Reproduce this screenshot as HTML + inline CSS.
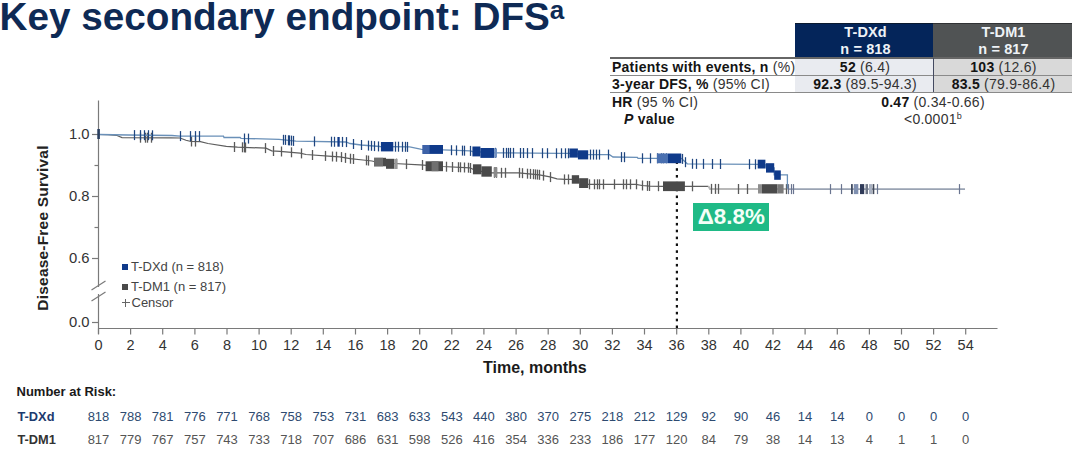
<!DOCTYPE html>
<html><head><meta charset="utf-8">
<style>
html,body{margin:0;padding:0;background:#fff;}
body{width:1080px;height:453px;position:relative;overflow:hidden;font-family:"Liberation Sans",sans-serif;}
.a{position:absolute;white-space:nowrap;}
#title{position:absolute;left:-0.5px;top:-5px;font-size:38.7px;font-weight:bold;color:#0e2a55;letter-spacing:0px;}
#title sup{font-size:26px;vertical-align:0;position:relative;top:-11px;margin-left:0px;}
svg{position:absolute;left:0;top:0;}
.xl{position:absolute;top:336.5px;width:40px;text-align:center;font-size:14.5px;color:#333;}
.yl{position:absolute;left:58px;width:31.5px;text-align:right;font-size:14.8px;color:#333;}
.rk{position:absolute;width:40px;text-align:center;font-size:13px;}
.rk.b{top:409px;color:#2e4a70;}
.rk.g{top:432px;color:#555;}
table{position:absolute;left:610px;top:22px;border-collapse:collapse;font-size:12.8px;color:#222;}
td{padding:0;height:17px;line-height:16px;white-space:nowrap;}
b{color:#141414;}
</style></head><body>
<div id="title">Key secondary endpoint: DFS<sup>a</sup></div>

<div class="a" style="left:795px;top:22.5px;width:138px;height:34.5px;background:#04255a;border-top:1px solid #0a1a30;box-sizing:border-box;"></div>
<div class="a" style="left:933px;top:22.5px;width:139px;height:34.5px;background:#505354;border-top:1px solid #303234;box-sizing:border-box;"></div>
<div class="a hd" style="left:796.5px;top:24px;width:138px;text-align:center;color:#eef2f6;font-weight:bold;font-size:14.5px;line-height:17px;letter-spacing:0.1px;">T-DXd<br>n = 818</div>
<div class="a hd" style="left:934px;top:24px;width:139px;text-align:center;color:#eef2f6;font-weight:bold;font-size:14.5px;line-height:17px;letter-spacing:0.1px;">T-DM1<br>n = 817</div>
<div class="a" style="left:795px;top:58px;width:138px;height:34px;background:#e9ebf0;"></div>
<div class="a" style="left:933px;top:58px;width:139px;height:34px;background:#d9d9d9;"></div>
<div class="a" style="left:610px;top:57.3px;width:462px;height:1.5px;background:#666;"></div>
<div class="a" style="left:610px;top:74.6px;width:462px;height:1.5px;background:#8a8a8a;"></div>
<div class="a" style="left:610px;top:91.6px;width:462px;height:1.5px;background:#8a8a8a;"></div>
<div class="a" style="left:933px;top:58px;width:1px;height:34px;background:#444a60;"></div>

<div class="a" style="left:612px;top:59px;font-size:14px;line-height:17px;color:#333;letter-spacing:0.25px;"><b>Patients with events, n</b> (%)</div>
<div class="a" style="left:612px;top:76px;font-size:14px;line-height:17px;color:#333;letter-spacing:0.25px;"><b>3-year DFS, %</b> (95% CI)</div>
<div class="a" style="left:612px;top:93.7px;font-size:14px;line-height:17px;color:#333;letter-spacing:0.25px;"><b>HR</b> (95 % CI)</div>
<div class="a" style="left:624px;top:110.7px;font-size:14px;line-height:17px;color:#333;letter-spacing:0.25px;"><b><i>P</i> value</b></div>
<div class="a" style="left:796px;top:59px;width:138px;text-align:center;font-size:14px;line-height:17px;color:#333;letter-spacing:0.25px;"><b>52</b> (6.4)</div>
<div class="a" style="left:934px;top:59px;width:139px;text-align:center;font-size:14px;line-height:17px;color:#333;letter-spacing:0.25px;"><b>103</b> (12.6)</div>
<div class="a" style="left:796px;top:76px;width:138px;text-align:center;font-size:14px;line-height:17px;color:#333;letter-spacing:0.25px;"><b>92.3</b> (89.5-94.3)</div>
<div class="a" style="left:934px;top:76px;width:139px;text-align:center;font-size:14px;line-height:17px;color:#333;letter-spacing:0.25px;"><b>83.5</b> (79.9-86.4)</div>
<div class="a" style="left:833px;top:93.7px;width:200px;text-align:center;font-size:14px;line-height:17px;color:#333;letter-spacing:0.25px;"><b>0.47</b> (0.34-0.66)</div>
<div class="a" style="left:833px;top:110.7px;width:200px;text-align:center;font-size:14px;line-height:17px;color:#333;letter-spacing:0.25px;">&lt;0.0001<sup style="font-size:9px;vertical-align:0;position:relative;top:-5px;">b</sup></div>

<svg width="1080" height="453" viewBox="0 0 1080 453">
<line x1="98.5" y1="100.5" x2="98.5" y2="287" stroke="#7a7a7a" stroke-width="1.2"/><line x1="98.5" y1="294" x2="98.5" y2="334" stroke="#7a7a7a" stroke-width="1.2"/><line x1="91.5" y1="290" x2="105.5" y2="281" stroke="#7a7a7a" stroke-width="1.2"/><line x1="91.5" y1="301" x2="105.5" y2="292" stroke="#7a7a7a" stroke-width="1.2"/><line x1="98.5" y1="328.5" x2="997.5" y2="328.5" stroke="#7a7a7a" stroke-width="1.2"/><line x1="92" y1="134.5" x2="98.5" y2="134.5" stroke="#7a7a7a" stroke-width="1.2"/><line x1="92" y1="196.5" x2="98.5" y2="196.5" stroke="#7a7a7a" stroke-width="1.2"/><line x1="92" y1="258.5" x2="98.5" y2="258.5" stroke="#7a7a7a" stroke-width="1.2"/><line x1="92" y1="322.5" x2="98.5" y2="322.5" stroke="#7a7a7a" stroke-width="1.2"/><line x1="94.5" y1="165.5" x2="98.5" y2="165.5" stroke="#7a7a7a" stroke-width="1.2"/><line x1="94.5" y1="227.5" x2="98.5" y2="227.5" stroke="#7a7a7a" stroke-width="1.2"/><line x1="98.5" y1="328.5" x2="98.5" y2="334.5" stroke="#7a7a7a" stroke-width="1.2"/><line x1="130.6" y1="328.5" x2="130.6" y2="334.5" stroke="#7a7a7a" stroke-width="1.2"/><line x1="162.7" y1="328.5" x2="162.7" y2="334.5" stroke="#7a7a7a" stroke-width="1.2"/><line x1="194.9" y1="328.5" x2="194.9" y2="334.5" stroke="#7a7a7a" stroke-width="1.2"/><line x1="227.0" y1="328.5" x2="227.0" y2="334.5" stroke="#7a7a7a" stroke-width="1.2"/><line x1="259.1" y1="328.5" x2="259.1" y2="334.5" stroke="#7a7a7a" stroke-width="1.2"/><line x1="291.2" y1="328.5" x2="291.2" y2="334.5" stroke="#7a7a7a" stroke-width="1.2"/><line x1="323.3" y1="328.5" x2="323.3" y2="334.5" stroke="#7a7a7a" stroke-width="1.2"/><line x1="355.5" y1="328.5" x2="355.5" y2="334.5" stroke="#7a7a7a" stroke-width="1.2"/><line x1="387.6" y1="328.5" x2="387.6" y2="334.5" stroke="#7a7a7a" stroke-width="1.2"/><line x1="419.7" y1="328.5" x2="419.7" y2="334.5" stroke="#7a7a7a" stroke-width="1.2"/><line x1="451.8" y1="328.5" x2="451.8" y2="334.5" stroke="#7a7a7a" stroke-width="1.2"/><line x1="483.9" y1="328.5" x2="483.9" y2="334.5" stroke="#7a7a7a" stroke-width="1.2"/><line x1="516.1" y1="328.5" x2="516.1" y2="334.5" stroke="#7a7a7a" stroke-width="1.2"/><line x1="548.2" y1="328.5" x2="548.2" y2="334.5" stroke="#7a7a7a" stroke-width="1.2"/><line x1="580.3" y1="328.5" x2="580.3" y2="334.5" stroke="#7a7a7a" stroke-width="1.2"/><line x1="612.4" y1="328.5" x2="612.4" y2="334.5" stroke="#7a7a7a" stroke-width="1.2"/><line x1="644.5" y1="328.5" x2="644.5" y2="334.5" stroke="#7a7a7a" stroke-width="1.2"/><line x1="676.7" y1="328.5" x2="676.7" y2="334.5" stroke="#7a7a7a" stroke-width="1.2"/><line x1="708.8" y1="328.5" x2="708.8" y2="334.5" stroke="#7a7a7a" stroke-width="1.2"/><line x1="740.9" y1="328.5" x2="740.9" y2="334.5" stroke="#7a7a7a" stroke-width="1.2"/><line x1="773.0" y1="328.5" x2="773.0" y2="334.5" stroke="#7a7a7a" stroke-width="1.2"/><line x1="805.1" y1="328.5" x2="805.1" y2="334.5" stroke="#7a7a7a" stroke-width="1.2"/><line x1="837.3" y1="328.5" x2="837.3" y2="334.5" stroke="#7a7a7a" stroke-width="1.2"/><line x1="869.4" y1="328.5" x2="869.4" y2="334.5" stroke="#7a7a7a" stroke-width="1.2"/><line x1="901.5" y1="328.5" x2="901.5" y2="334.5" stroke="#7a7a7a" stroke-width="1.2"/><line x1="933.6" y1="328.5" x2="933.6" y2="334.5" stroke="#7a7a7a" stroke-width="1.2"/><line x1="965.7" y1="328.5" x2="965.7" y2="334.5" stroke="#7a7a7a" stroke-width="1.2"/><rect x="675.8" y="325.5" width="2.2" height="2.6" fill="#111"/><rect x="675.8" y="318.7" width="2.2" height="2.6" fill="#111"/><rect x="675.8" y="311.8" width="2.2" height="2.6" fill="#111"/><rect x="675.8" y="305.0" width="2.2" height="2.6" fill="#111"/><rect x="675.8" y="298.1" width="2.2" height="2.6" fill="#111"/><rect x="675.8" y="291.3" width="2.2" height="2.6" fill="#111"/><rect x="675.8" y="284.5" width="2.2" height="2.6" fill="#111"/><rect x="675.8" y="277.6" width="2.2" height="2.6" fill="#111"/><rect x="675.8" y="270.8" width="2.2" height="2.6" fill="#111"/><rect x="675.8" y="263.9" width="2.2" height="2.6" fill="#111"/><rect x="675.8" y="257.1" width="2.2" height="2.6" fill="#111"/><rect x="675.8" y="250.3" width="2.2" height="2.6" fill="#111"/><rect x="675.8" y="243.4" width="2.2" height="2.6" fill="#111"/><rect x="675.8" y="236.6" width="2.2" height="2.6" fill="#111"/><rect x="675.8" y="229.7" width="2.2" height="2.6" fill="#111"/><rect x="675.8" y="222.9" width="2.2" height="2.6" fill="#111"/><rect x="675.8" y="216.1" width="2.2" height="2.6" fill="#111"/><rect x="675.8" y="209.2" width="2.2" height="2.6" fill="#111"/><rect x="675.8" y="202.4" width="2.2" height="2.6" fill="#111"/><rect x="675.8" y="195.5" width="2.2" height="2.6" fill="#111"/><rect x="675.8" y="188.7" width="2.2" height="2.6" fill="#111"/><rect x="675.8" y="181.9" width="2.2" height="2.6" fill="#111"/><rect x="675.8" y="175.0" width="2.2" height="2.6" fill="#111"/><rect x="675.8" y="168.2" width="2.2" height="2.6" fill="#111"/><rect x="675.8" y="161.3" width="2.2" height="2.6" fill="#111"/>
<path d="M98.5,134.5 L108.0,134.7 L117.0,135.5 L122.0,137.6 L171.0,137.8 L180.0,138.0 L186.0,140.3 L191.0,141.5 L200.4,141.7 L208.0,143.5 L226.3,146.3 L237.4,147.2 L266.0,148.1 L271.7,150.9 L280.0,151.4 L300.0,153.1 L306.0,154.5 L331.8,156.4 L340.0,156.9 L350.0,158.7 L363.0,160.0 L372.0,161.0 L380.0,163.0 L394.0,163.5 L420.0,164.8 L443.0,166.5 L470.0,167.8 L472.9,169.3 L481.4,171.3 L491.8,172.8 L518.6,172.8 L539.4,174.8 L550.0,176.8 L557.0,178.8 L565.0,179.4 L571.8,179.4 L579.1,182.0 L588.2,184.3 L636.0,184.3 L642.0,185.5 L650.0,186.1 L663.0,186.3 L708.5,186.3" fill="none" stroke="#5e5e5e" stroke-width="1.2"/><path d="M708.5,186.3 L710.0,188.9 L787.4,189.1" fill="none" stroke="#b8b8b8" stroke-width="2"/><line x1="140.5" y1="132.7" x2="140.5" y2="142.7" stroke="#5a5a5a" stroke-width="1.3"/><line x1="145.5" y1="132.7" x2="145.5" y2="142.7" stroke="#5a5a5a" stroke-width="1.3"/><line x1="147.5" y1="132.7" x2="147.5" y2="142.7" stroke="#5a5a5a" stroke-width="1.3"/><line x1="151.5" y1="132.7" x2="151.5" y2="142.7" stroke="#5a5a5a" stroke-width="1.3"/><line x1="191.5" y1="136.5" x2="191.5" y2="146.5" stroke="#5a5a5a" stroke-width="1.3"/><line x1="195.5" y1="136.6" x2="195.5" y2="146.6" stroke="#5a5a5a" stroke-width="1.3"/><line x1="234.5" y1="142.0" x2="234.5" y2="152.0" stroke="#5a5a5a" stroke-width="1.3"/><line x1="242.5" y1="142.3" x2="242.5" y2="152.3" stroke="#5a5a5a" stroke-width="1.3"/><line x1="244.5" y1="142.4" x2="244.5" y2="152.4" stroke="#5a5a5a" stroke-width="1.3"/><line x1="245.5" y1="142.5" x2="245.5" y2="152.5" stroke="#5a5a5a" stroke-width="1.3"/><line x1="265.5" y1="143.1" x2="265.5" y2="153.1" stroke="#5a5a5a" stroke-width="1.3"/><line x1="273.5" y1="146.0" x2="273.5" y2="156.0" stroke="#5a5a5a" stroke-width="1.3"/><line x1="281.5" y1="146.5" x2="281.5" y2="156.5" stroke="#5a5a5a" stroke-width="1.3"/><line x1="291.5" y1="147.3" x2="291.5" y2="157.3" stroke="#5a5a5a" stroke-width="1.3"/><line x1="301.5" y1="148.4" x2="301.5" y2="158.4" stroke="#5a5a5a" stroke-width="1.3"/><line x1="312.5" y1="150.0" x2="312.5" y2="160.0" stroke="#5a5a5a" stroke-width="1.3"/><line x1="325.5" y1="150.9" x2="325.5" y2="160.9" stroke="#5a5a5a" stroke-width="1.3"/><line x1="332.5" y1="151.5" x2="332.5" y2="161.5" stroke="#5a5a5a" stroke-width="1.3"/><line x1="336.5" y1="151.7" x2="336.5" y2="161.7" stroke="#5a5a5a" stroke-width="1.3"/><line x1="341.5" y1="152.1" x2="341.5" y2="162.1" stroke="#5a5a5a" stroke-width="1.3"/><line x1="345.5" y1="152.9" x2="345.5" y2="162.9" stroke="#5a5a5a" stroke-width="1.3"/><line x1="350.5" y1="153.7" x2="350.5" y2="163.7" stroke="#5a5a5a" stroke-width="1.3"/><line x1="353.5" y1="154.0" x2="353.5" y2="164.0" stroke="#5a5a5a" stroke-width="1.3"/><line x1="366.5" y1="155.3" x2="366.5" y2="165.3" stroke="#5a5a5a" stroke-width="1.3"/><line x1="368.5" y1="155.6" x2="368.5" y2="165.6" stroke="#5a5a5a" stroke-width="1.3"/><line x1="396.5" y1="158.6" x2="396.5" y2="168.6" stroke="#5a5a5a" stroke-width="1.3"/><line x1="406.5" y1="159.1" x2="406.5" y2="169.1" stroke="#5a5a5a" stroke-width="1.3"/><line x1="422.5" y1="160.0" x2="422.5" y2="170.0" stroke="#5a5a5a" stroke-width="1.3"/><line x1="446.5" y1="161.7" x2="446.5" y2="171.7" stroke="#5a5a5a" stroke-width="1.3"/><line x1="452.5" y1="162.0" x2="452.5" y2="172.0" stroke="#5a5a5a" stroke-width="1.3"/><line x1="458.5" y1="162.2" x2="458.5" y2="172.2" stroke="#5a5a5a" stroke-width="1.3"/><line x1="460.5" y1="162.3" x2="460.5" y2="172.3" stroke="#5a5a5a" stroke-width="1.3"/><line x1="464.5" y1="162.5" x2="464.5" y2="172.5" stroke="#5a5a5a" stroke-width="1.3"/><line x1="468.5" y1="162.7" x2="468.5" y2="172.7" stroke="#5a5a5a" stroke-width="1.3"/><line x1="470.5" y1="163.0" x2="470.5" y2="173.0" stroke="#5a5a5a" stroke-width="1.3"/><line x1="494.5" y1="167.8" x2="494.5" y2="177.8" stroke="#5a5a5a" stroke-width="1.3"/><line x1="496.5" y1="167.8" x2="496.5" y2="177.8" stroke="#5a5a5a" stroke-width="1.3"/><line x1="501.5" y1="167.8" x2="501.5" y2="177.8" stroke="#5a5a5a" stroke-width="1.3"/><line x1="505.5" y1="167.8" x2="505.5" y2="177.8" stroke="#5a5a5a" stroke-width="1.3"/><line x1="519.5" y1="167.8" x2="519.5" y2="177.8" stroke="#5a5a5a" stroke-width="1.3"/><line x1="522.5" y1="168.2" x2="522.5" y2="178.2" stroke="#5a5a5a" stroke-width="1.3"/><line x1="527.5" y1="168.7" x2="527.5" y2="178.7" stroke="#5a5a5a" stroke-width="1.3"/><line x1="530.5" y1="168.9" x2="530.5" y2="178.9" stroke="#5a5a5a" stroke-width="1.3"/><line x1="533.5" y1="169.2" x2="533.5" y2="179.2" stroke="#5a5a5a" stroke-width="1.3"/><line x1="535.5" y1="169.4" x2="535.5" y2="179.4" stroke="#5a5a5a" stroke-width="1.3"/><line x1="537.5" y1="169.6" x2="537.5" y2="179.6" stroke="#5a5a5a" stroke-width="1.3"/><line x1="539.5" y1="169.8" x2="539.5" y2="179.8" stroke="#5a5a5a" stroke-width="1.3"/><line x1="543.5" y1="170.6" x2="543.5" y2="180.6" stroke="#5a5a5a" stroke-width="1.3"/><line x1="550.5" y1="172.1" x2="550.5" y2="182.1" stroke="#5a5a5a" stroke-width="1.3"/><line x1="564.5" y1="174.4" x2="564.5" y2="184.4" stroke="#5a5a5a" stroke-width="1.3"/><line x1="568.5" y1="174.4" x2="568.5" y2="184.4" stroke="#5a5a5a" stroke-width="1.3"/><line x1="589.5" y1="179.3" x2="589.5" y2="189.3" stroke="#5a5a5a" stroke-width="1.3"/><line x1="594.5" y1="179.3" x2="594.5" y2="189.3" stroke="#5a5a5a" stroke-width="1.3"/><line x1="597.5" y1="179.3" x2="597.5" y2="189.3" stroke="#5a5a5a" stroke-width="1.3"/><line x1="599.5" y1="179.3" x2="599.5" y2="189.3" stroke="#5a5a5a" stroke-width="1.3"/><line x1="603.5" y1="179.3" x2="603.5" y2="189.3" stroke="#5a5a5a" stroke-width="1.3"/><line x1="614.5" y1="179.3" x2="614.5" y2="189.3" stroke="#5a5a5a" stroke-width="1.3"/><line x1="623.5" y1="179.3" x2="623.5" y2="189.3" stroke="#5a5a5a" stroke-width="1.3"/><line x1="626.5" y1="179.3" x2="626.5" y2="189.3" stroke="#5a5a5a" stroke-width="1.3"/><line x1="630.5" y1="179.3" x2="630.5" y2="189.3" stroke="#5a5a5a" stroke-width="1.3"/><line x1="636.5" y1="179.3" x2="636.5" y2="189.3" stroke="#5a5a5a" stroke-width="1.3"/><line x1="642.5" y1="180.5" x2="642.5" y2="190.5" stroke="#5a5a5a" stroke-width="1.3"/><line x1="647.5" y1="180.9" x2="647.5" y2="190.9" stroke="#5a5a5a" stroke-width="1.3"/><line x1="649.5" y1="181.0" x2="649.5" y2="191.0" stroke="#5a5a5a" stroke-width="1.3"/><line x1="658.5" y1="181.2" x2="658.5" y2="191.2" stroke="#5a5a5a" stroke-width="1.3"/><line x1="692.5" y1="181.3" x2="692.5" y2="191.3" stroke="#5a5a5a" stroke-width="1.3"/><line x1="711.5" y1="183.9" x2="711.5" y2="193.9" stroke="#5a5a5a" stroke-width="1.3"/><line x1="715.5" y1="183.9" x2="715.5" y2="193.9" stroke="#5a5a5a" stroke-width="1.3"/><line x1="718.5" y1="183.9" x2="718.5" y2="193.9" stroke="#5a5a5a" stroke-width="1.3"/><line x1="738.5" y1="184.0" x2="738.5" y2="194.0" stroke="#5a5a5a" stroke-width="1.3"/><line x1="747.5" y1="184.0" x2="747.5" y2="194.0" stroke="#5a5a5a" stroke-width="1.3"/><line x1="786.5" y1="184.1" x2="786.5" y2="194.1" stroke="#5a5a5a" stroke-width="1.3"/><rect x="374.0" y="157.8" width="12.0" height="8.5" fill="#4a4a4a"/><rect x="386.0" y="158.8" width="8.3" height="10.0" fill="#4a4a4a"/><rect x="425.6" y="161.3" width="17.4" height="9.9" fill="#4a4a4a"/><rect x="472.9" y="164.3" width="8.5" height="10.0" fill="#4a4a4a"/><rect x="481.4" y="166.3" width="10.4" height="10.4" fill="#4a4a4a"/><rect x="571.8" y="175.2" width="7.3" height="8.5" fill="#4a4a4a"/><rect x="579.1" y="178.2" width="9.1" height="9.8" fill="#4a4a4a"/><rect x="663.0" y="181.4" width="21.9" height="9.7" fill="#4a4a4a"/><rect x="762.0" y="184.2" width="15.5" height="9.3" fill="#4a4a4a"/><rect x="758.0" y="184.2" width="4.0" height="9.3" fill="#8e8e8e"/><rect x="777.5" y="184.2" width="6.1" height="9.3" fill="#7a7a7a"/><rect x="394.3" y="159.0" width="3.2" height="10.0" fill="#9a9a9a"/><rect x="493.8" y="167.0" width="3.4" height="10.0" fill="#8a8a8a"/><rect x="374.0" y="157.8" width="9.0" height="8.5" fill="#6e6e6e"/><rect x="431.6" y="161.3" width="6.9" height="9.9" fill="#707070"/><path d="M98.5,134.5 L128.0,135.0 L172.0,135.5 L180.0,136.1 L223.5,136.1 L224.0,137.5 L240.2,137.5 L241.0,138.4 L279.0,139.3 L296.0,141.1 L346.0,142.0 L350.0,143.5 L361.0,145.0 L380.0,146.5 L409.7,146.9 L421.6,149.4 L443.0,149.9 L470.0,150.9 L472.4,151.5 L494.3,152.8 L560.0,153.3 L569.4,153.3 L588.2,154.6 L609.5,154.6 L613.0,157.0 L637.4,157.4 L638.0,158.3 L657.0,158.3 L681.3,158.3 L687.3,163.8 L757.7,164.3 L765.4,164.3 L766.0,167.9 L774.2,167.9 L774.2,174.8 L787.4,174.8 L787.4,189.1" fill="none" stroke="#6a90b8" stroke-width="1.3"/><line x1="134.5" y1="130.1" x2="134.5" y2="140.1" stroke="#1f4680" stroke-width="1.25"/><line x1="140.5" y1="130.1" x2="140.5" y2="140.1" stroke="#1f4680" stroke-width="1.25"/><line x1="144.5" y1="130.2" x2="144.5" y2="140.2" stroke="#1f4680" stroke-width="1.25"/><line x1="148.5" y1="130.2" x2="148.5" y2="140.2" stroke="#1f4680" stroke-width="1.25"/><line x1="152.5" y1="130.3" x2="152.5" y2="140.3" stroke="#1f4680" stroke-width="1.25"/><line x1="180.5" y1="131.1" x2="180.5" y2="141.1" stroke="#1f4680" stroke-width="1.25"/><line x1="190.5" y1="131.1" x2="190.5" y2="141.1" stroke="#1f4680" stroke-width="1.25"/><line x1="195.5" y1="131.1" x2="195.5" y2="141.1" stroke="#1f4680" stroke-width="1.25"/><line x1="199.5" y1="131.1" x2="199.5" y2="141.1" stroke="#1f4680" stroke-width="1.25"/><line x1="244.5" y1="133.5" x2="244.5" y2="143.5" stroke="#1f4680" stroke-width="1.25"/><line x1="248.5" y1="133.6" x2="248.5" y2="143.6" stroke="#1f4680" stroke-width="1.25"/><line x1="283.5" y1="134.8" x2="283.5" y2="144.8" stroke="#1f4680" stroke-width="1.25"/><line x1="285.5" y1="134.9" x2="285.5" y2="144.9" stroke="#1f4680" stroke-width="1.25"/><line x1="288.5" y1="135.3" x2="288.5" y2="145.3" stroke="#1f4680" stroke-width="1.25"/><line x1="289.5" y1="135.4" x2="289.5" y2="145.4" stroke="#1f4680" stroke-width="1.25"/><line x1="291.5" y1="135.6" x2="291.5" y2="145.6" stroke="#1f4680" stroke-width="1.25"/><line x1="293.5" y1="135.9" x2="293.5" y2="145.9" stroke="#1f4680" stroke-width="1.25"/><line x1="314.5" y1="136.4" x2="314.5" y2="146.4" stroke="#1f4680" stroke-width="1.25"/><line x1="331.5" y1="136.7" x2="331.5" y2="146.7" stroke="#1f4680" stroke-width="1.25"/><line x1="334.5" y1="136.8" x2="334.5" y2="146.8" stroke="#1f4680" stroke-width="1.25"/><line x1="342.5" y1="136.9" x2="342.5" y2="146.9" stroke="#1f4680" stroke-width="1.25"/><line x1="346.5" y1="137.1" x2="346.5" y2="147.1" stroke="#1f4680" stroke-width="1.25"/><line x1="353.5" y1="139.0" x2="353.5" y2="149.0" stroke="#1f4680" stroke-width="1.25"/><line x1="361.5" y1="140.0" x2="361.5" y2="150.0" stroke="#1f4680" stroke-width="1.25"/><line x1="368.5" y1="140.6" x2="368.5" y2="150.6" stroke="#1f4680" stroke-width="1.25"/><line x1="371.5" y1="140.8" x2="371.5" y2="150.8" stroke="#1f4680" stroke-width="1.25"/><line x1="374.5" y1="141.1" x2="374.5" y2="151.1" stroke="#1f4680" stroke-width="1.25"/><line x1="378.5" y1="141.4" x2="378.5" y2="151.4" stroke="#1f4680" stroke-width="1.25"/><line x1="395.5" y1="141.7" x2="395.5" y2="151.7" stroke="#1f4680" stroke-width="1.25"/><line x1="398.5" y1="141.7" x2="398.5" y2="151.7" stroke="#1f4680" stroke-width="1.25"/><line x1="402.5" y1="141.8" x2="402.5" y2="151.8" stroke="#1f4680" stroke-width="1.25"/><line x1="405.5" y1="141.8" x2="405.5" y2="151.8" stroke="#1f4680" stroke-width="1.25"/><line x1="407.5" y1="141.9" x2="407.5" y2="151.9" stroke="#1f4680" stroke-width="1.25"/><line x1="451.5" y1="145.2" x2="451.5" y2="155.2" stroke="#1f4680" stroke-width="1.25"/><line x1="456.5" y1="145.4" x2="456.5" y2="155.4" stroke="#1f4680" stroke-width="1.25"/><line x1="462.5" y1="145.6" x2="462.5" y2="155.6" stroke="#1f4680" stroke-width="1.25"/><line x1="464.5" y1="145.7" x2="464.5" y2="155.7" stroke="#1f4680" stroke-width="1.25"/><line x1="470.5" y1="145.9" x2="470.5" y2="155.9" stroke="#1f4680" stroke-width="1.25"/><line x1="495.5" y1="147.8" x2="495.5" y2="157.8" stroke="#1f4680" stroke-width="1.25"/><line x1="503.5" y1="147.9" x2="503.5" y2="157.9" stroke="#1f4680" stroke-width="1.25"/><line x1="506.5" y1="147.9" x2="506.5" y2="157.9" stroke="#1f4680" stroke-width="1.25"/><line x1="508.5" y1="147.9" x2="508.5" y2="157.9" stroke="#1f4680" stroke-width="1.25"/><line x1="510.5" y1="147.9" x2="510.5" y2="157.9" stroke="#1f4680" stroke-width="1.25"/><line x1="513.5" y1="147.9" x2="513.5" y2="157.9" stroke="#1f4680" stroke-width="1.25"/><line x1="520.5" y1="148.0" x2="520.5" y2="158.0" stroke="#1f4680" stroke-width="1.25"/><line x1="523.5" y1="148.0" x2="523.5" y2="158.0" stroke="#1f4680" stroke-width="1.25"/><line x1="527.5" y1="148.1" x2="527.5" y2="158.1" stroke="#1f4680" stroke-width="1.25"/><line x1="532.5" y1="148.1" x2="532.5" y2="158.1" stroke="#1f4680" stroke-width="1.25"/><line x1="542.5" y1="148.2" x2="542.5" y2="158.2" stroke="#1f4680" stroke-width="1.25"/><line x1="547.5" y1="148.2" x2="547.5" y2="158.2" stroke="#1f4680" stroke-width="1.25"/><line x1="556.5" y1="148.3" x2="556.5" y2="158.3" stroke="#1f4680" stroke-width="1.25"/><line x1="561.5" y1="148.3" x2="561.5" y2="158.3" stroke="#1f4680" stroke-width="1.25"/><line x1="565.5" y1="148.3" x2="565.5" y2="158.3" stroke="#1f4680" stroke-width="1.25"/><line x1="568.5" y1="148.3" x2="568.5" y2="158.3" stroke="#1f4680" stroke-width="1.25"/><line x1="590.5" y1="149.6" x2="590.5" y2="159.6" stroke="#1f4680" stroke-width="1.25"/><line x1="593.5" y1="149.6" x2="593.5" y2="159.6" stroke="#1f4680" stroke-width="1.25"/><line x1="596.5" y1="149.6" x2="596.5" y2="159.6" stroke="#1f4680" stroke-width="1.25"/><line x1="599.5" y1="149.6" x2="599.5" y2="159.6" stroke="#1f4680" stroke-width="1.25"/><line x1="608.5" y1="149.6" x2="608.5" y2="159.6" stroke="#1f4680" stroke-width="1.25"/><line x1="621.5" y1="152.1" x2="621.5" y2="162.1" stroke="#1f4680" stroke-width="1.25"/><line x1="624.5" y1="152.2" x2="624.5" y2="162.2" stroke="#1f4680" stroke-width="1.25"/><line x1="642.5" y1="153.3" x2="642.5" y2="163.3" stroke="#1f4680" stroke-width="1.25"/><line x1="650.5" y1="153.3" x2="650.5" y2="163.3" stroke="#1f4680" stroke-width="1.25"/><line x1="657.5" y1="153.3" x2="657.5" y2="163.3" stroke="#1f4680" stroke-width="1.25"/><line x1="661.5" y1="153.3" x2="661.5" y2="163.3" stroke="#1f4680" stroke-width="1.25"/><line x1="663.5" y1="153.3" x2="663.5" y2="163.3" stroke="#1f4680" stroke-width="1.25"/><line x1="666.5" y1="153.3" x2="666.5" y2="163.3" stroke="#1f4680" stroke-width="1.25"/><line x1="682.5" y1="153.9" x2="682.5" y2="163.9" stroke="#1f4680" stroke-width="1.25"/><line x1="685.5" y1="157.2" x2="685.5" y2="167.2" stroke="#1f4680" stroke-width="1.25"/><line x1="692.5" y1="158.8" x2="692.5" y2="168.8" stroke="#1f4680" stroke-width="1.25"/><line x1="696.5" y1="158.9" x2="696.5" y2="168.9" stroke="#1f4680" stroke-width="1.25"/><line x1="703.5" y1="158.9" x2="703.5" y2="168.9" stroke="#1f4680" stroke-width="1.25"/><line x1="712.5" y1="159.0" x2="712.5" y2="169.0" stroke="#1f4680" stroke-width="1.25"/><line x1="720.5" y1="159.0" x2="720.5" y2="169.0" stroke="#1f4680" stroke-width="1.25"/><line x1="749.5" y1="159.2" x2="749.5" y2="169.2" stroke="#1f4680" stroke-width="1.25"/><line x1="755.5" y1="159.3" x2="755.5" y2="169.3" stroke="#1f4680" stroke-width="1.25"/><rect x="97.3" y="129" width="2.6" height="10" fill="#2a3f60"/><rect x="337.4" y="137.0" width="2.3" height="9.7" fill="#0f3a8a"/><rect x="380.9" y="142.0" width="12.4" height="9.4" fill="#0f3a8a"/><rect x="422.6" y="145.0" width="20.4" height="8.9" fill="#0f3a8a"/><rect x="472.4" y="146.5" width="8.0" height="9.9" fill="#0f3a8a"/><rect x="480.4" y="148.0" width="13.9" height="9.9" fill="#0f3a8a"/><rect x="569.4" y="148.5" width="8.5" height="9.1" fill="#0f3a8a"/><rect x="577.9" y="150.3" width="10.3" height="9.1" fill="#0f3a8a"/><rect x="668.0" y="153.5" width="13.3" height="9.7" fill="#0f3a8a"/><rect x="757.7" y="159.7" width="7.7" height="8.8" fill="#0f3a8a"/><rect x="766.0" y="163.2" width="8.2" height="9.4" fill="#0f3a8a"/><rect x="774.2" y="170.4" width="6.6" height="9.4" fill="#0f3a8a"/><rect x="494.3" y="148.5" width="2.7" height="9.0" fill="#7090c0"/><rect x="657.0" y="153.5" width="11.0" height="9.7" fill="#4a70b0"/><rect x="422.6" y="145.0" width="7.0" height="8.9" fill="#3d62a8"/><line x1="787.4" y1="189.1" x2="965" y2="189.1" stroke="#9aa3b3" stroke-width="1.6"/><line x1="788.5" y1="184.1" x2="788.5" y2="194.1" stroke="#6a7590" stroke-width="1.2"/><line x1="791.5" y1="184.1" x2="791.5" y2="194.1" stroke="#6a7590" stroke-width="1.2"/><line x1="793.5" y1="184.1" x2="793.5" y2="194.1" stroke="#6a7590" stroke-width="1.2"/><line x1="830.5" y1="184.1" x2="830.5" y2="194.1" stroke="#6a7590" stroke-width="1.2"/><line x1="841.5" y1="184.1" x2="841.5" y2="194.1" stroke="#6a7590" stroke-width="1.2"/><line x1="877.5" y1="184.1" x2="877.5" y2="194.1" stroke="#6a7590" stroke-width="1.2"/><line x1="959.5" y1="184.1" x2="959.5" y2="194.1" stroke="#6a7590" stroke-width="1.2"/><rect x="851.0" y="184.1" width="1.8" height="10" fill="#3f4a60"/><rect x="853.8" y="184.1" width="4.5" height="10" fill="#8090b0"/><rect x="860.0" y="184.1" width="4.2" height="10" fill="#2f3a58"/><rect x="865.5" y="184.1" width="2.5" height="10" fill="#707888"/><rect x="869.0" y="184.1" width="3.0" height="10" fill="#a8b0c0"/><rect x="872.6" y="184.1" width="1.7" height="10" fill="#404858"/>
</svg>

<div class="yl" style="top:126px">1.0</div>
<div class="yl" style="top:188px">0.8</div>
<div class="yl" style="top:250px">0.6</div>
<div class="yl" style="top:314px">0.0</div>
<div class="a" style="left:43px;top:228px;transform:translate(-50%,-50%) rotate(-90deg);font-size:15.5px;font-weight:bold;color:#222;letter-spacing:0.2px;">Disease-Free Survival</div>

<div class="a" style="left:122px;top:263.5px;width:6px;height:6px;background:#0f3a8a;"></div>
<div class="a" style="left:122px;top:283.5px;width:6px;height:6px;background:#4a4a4a;"></div>
<div class="a" style="left:131px;top:258.5px;font-size:13px;color:#444;">T-DXd (n = 818)</div>
<div class="a" style="left:131px;top:278.5px;font-size:13px;color:#444;">T-DM1 (n = 817)</div>
<div class="a" style="left:122px;top:302px;width:7.5px;height:1px;background:#666;"></div><div class="a" style="left:125.3px;top:298.5px;width:1px;height:8px;background:#666;"></div><div class="a" style="left:131.5px;top:294.5px;font-size:13px;color:#444;">Censor</div>

<div class="a" style="left:692.8px;top:203px;width:76.5px;height:27.7px;background:#1fba86;"></div>
<div class="a" style="left:692.8px;top:203px;width:77px;height:28px;line-height:28px;text-align:center;color:#f4fff8;font-weight:bold;font-size:22.4px;">&Delta;8.8%</div>

<div class="xl" style="left:78.5px">0</div><div class="xl" style="left:110.6px">2</div><div class="xl" style="left:142.7px">4</div><div class="xl" style="left:174.9px">6</div><div class="xl" style="left:207.0px">8</div><div class="xl" style="left:239.1px">10</div><div class="xl" style="left:271.2px">12</div><div class="xl" style="left:303.3px">14</div><div class="xl" style="left:335.5px">16</div><div class="xl" style="left:367.6px">18</div><div class="xl" style="left:399.7px">20</div><div class="xl" style="left:431.8px">22</div><div class="xl" style="left:463.9px">24</div><div class="xl" style="left:496.1px">26</div><div class="xl" style="left:528.2px">28</div><div class="xl" style="left:560.3px">30</div><div class="xl" style="left:592.4px">32</div><div class="xl" style="left:624.5px">34</div><div class="xl" style="left:656.7px">36</div><div class="xl" style="left:688.8px">38</div><div class="xl" style="left:720.9px">40</div><div class="xl" style="left:753.0px">42</div><div class="xl" style="left:785.1px">44</div><div class="xl" style="left:817.3px">46</div><div class="xl" style="left:849.4px">48</div><div class="xl" style="left:881.5px">50</div><div class="xl" style="left:913.6px">52</div><div class="xl" style="left:945.7px">54</div>
<div class="a" style="left:483px;top:359px;font-size:16px;font-weight:bold;color:#1a1a1a;">Time, months</div>

<div class="a" style="left:16.5px;top:384px;font-size:13px;font-weight:bold;color:#1a1a1a;">Number at Risk:</div>
<div class="a" style="left:17.5px;top:408.5px;font-size:12.8px;font-weight:bold;color:#1d3a6e;">T-DXd</div>
<div class="a" style="left:17.5px;top:431.5px;font-size:12.8px;font-weight:bold;color:#333;">T-DM1</div>
<div class="rk b" style="left:78.5px">818</div><div class="rk g" style="left:78.5px">817</div><div class="rk b" style="left:110.6px">788</div><div class="rk g" style="left:110.6px">779</div><div class="rk b" style="left:142.7px">781</div><div class="rk g" style="left:142.7px">767</div><div class="rk b" style="left:174.9px">776</div><div class="rk g" style="left:174.9px">757</div><div class="rk b" style="left:207.0px">771</div><div class="rk g" style="left:207.0px">743</div><div class="rk b" style="left:239.1px">768</div><div class="rk g" style="left:239.1px">733</div><div class="rk b" style="left:271.2px">758</div><div class="rk g" style="left:271.2px">718</div><div class="rk b" style="left:303.3px">753</div><div class="rk g" style="left:303.3px">707</div><div class="rk b" style="left:335.5px">731</div><div class="rk g" style="left:335.5px">686</div><div class="rk b" style="left:367.6px">683</div><div class="rk g" style="left:367.6px">631</div><div class="rk b" style="left:399.7px">633</div><div class="rk g" style="left:399.7px">598</div><div class="rk b" style="left:431.8px">543</div><div class="rk g" style="left:431.8px">526</div><div class="rk b" style="left:463.9px">440</div><div class="rk g" style="left:463.9px">416</div><div class="rk b" style="left:496.1px">380</div><div class="rk g" style="left:496.1px">354</div><div class="rk b" style="left:528.2px">370</div><div class="rk g" style="left:528.2px">336</div><div class="rk b" style="left:560.3px">275</div><div class="rk g" style="left:560.3px">233</div><div class="rk b" style="left:592.4px">218</div><div class="rk g" style="left:592.4px">186</div><div class="rk b" style="left:624.5px">212</div><div class="rk g" style="left:624.5px">177</div><div class="rk b" style="left:656.7px">129</div><div class="rk g" style="left:656.7px">120</div><div class="rk b" style="left:688.8px">92</div><div class="rk g" style="left:688.8px">84</div><div class="rk b" style="left:720.9px">90</div><div class="rk g" style="left:720.9px">79</div><div class="rk b" style="left:753.0px">46</div><div class="rk g" style="left:753.0px">38</div><div class="rk b" style="left:785.1px">14</div><div class="rk g" style="left:785.1px">14</div><div class="rk b" style="left:817.3px">14</div><div class="rk g" style="left:817.3px">13</div><div class="rk b" style="left:849.4px">0</div><div class="rk g" style="left:849.4px">4</div><div class="rk b" style="left:881.5px">0</div><div class="rk g" style="left:881.5px">1</div><div class="rk b" style="left:913.6px">0</div><div class="rk g" style="left:913.6px">1</div><div class="rk b" style="left:945.7px">0</div><div class="rk g" style="left:945.7px">0</div>
</body></html>
